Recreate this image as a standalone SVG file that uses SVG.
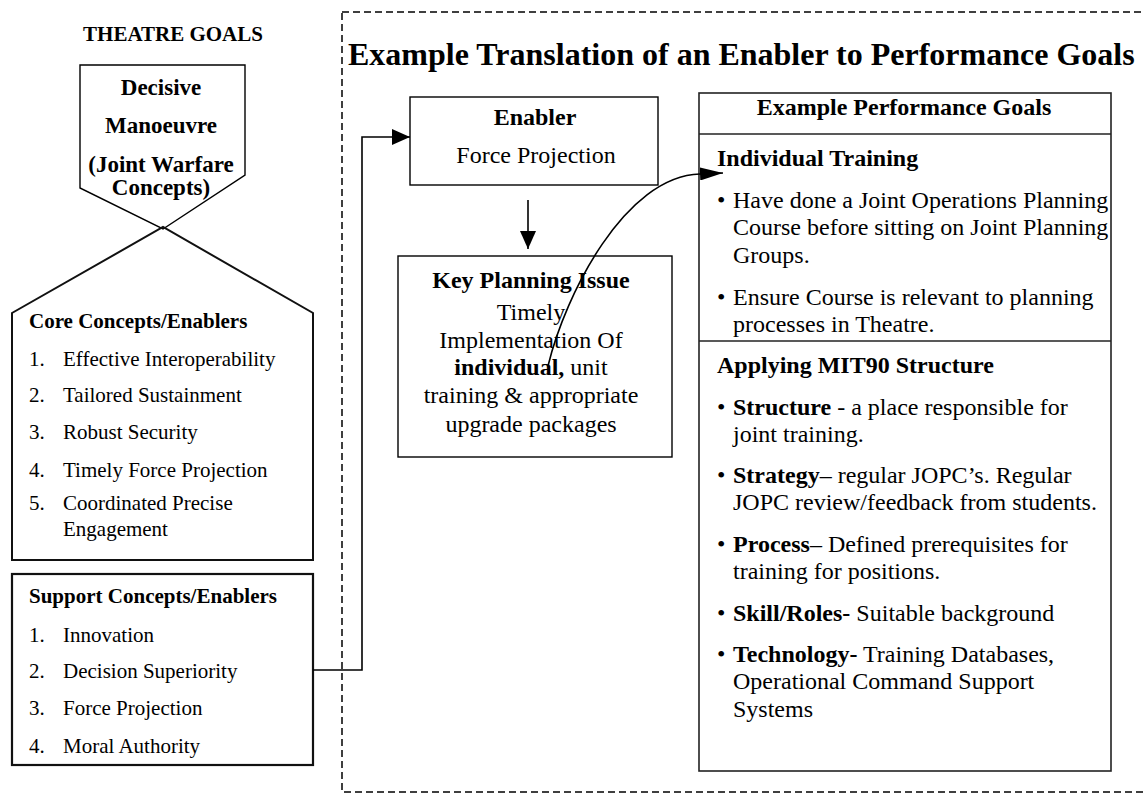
<svg xmlns="http://www.w3.org/2000/svg" width="1143" height="794" viewBox="0 0 1143 794">
  <style>
    text { font-family: "Liberation Serif", "Times New Roman", serif; fill: #000; }
    .b { font-weight: bold; }
    .s21 { font-size: 21px; }
    .s23 { font-size: 23px; }
    .s24 { font-size: 24px; }
    .title { font-size: 32px; font-weight: bold; }
    .mid { text-anchor: middle; }
    .box { fill: #fff; stroke: #000; stroke-width: 1.4; }
    .thick { fill: #fff; stroke: #111; stroke-width: 2.2; }
    .frame { fill: none; stroke: #000; stroke-width: 1.5; stroke-dasharray: 7 4; }
    .wire { fill: none; stroke: #000; stroke-width: 1.6; }
  </style>
  <defs>
    <marker id="head" viewBox="0 0 18 16" refX="18" refY="8" markerWidth="18" markerHeight="16" markerUnits="userSpaceOnUse" orient="auto">
      <path d="M0,0 L18,8 L0,16 z" fill="#000"/>
    </marker>
    <marker id="headSlim" viewBox="0 0 23 13" refX="23" refY="6.5" markerWidth="23" markerHeight="13" markerUnits="userSpaceOnUse" orient="auto">
      <path d="M0,0 L23,6.5 L0,13 z" fill="#000"/>
    </marker>
  </defs>

  <rect width="1143" height="794" fill="#fff"/>

  <!-- dashed frame around the translation example -->
  <rect id="frame" class="frame" x="342" y="12" width="830" height="780"/>

  <text id="theatre-goals" class="b s21 mid" x="173" y="41">THEATRE GOALS</text>

  <g id="decisive-manoeuvre">
    <path class="box" d="M80,65 H245 V175 L163,229 L80,188 Z"/>
    <text class="b s23 mid" x="161" y="95">Decisive</text>
    <text class="b s23 mid" x="161" y="133">Manoeuvre</text>
    <text class="b s23 mid" x="161" y="172">(Joint Warfare</text>
    <text class="b s23 mid" x="161" y="195">Concepts)</text>
  </g>

  <g id="core-concepts">
    <path d="M12,313 L163,227 L313,313 V560 H12 Z" fill="none" stroke="#111" stroke-width="2"/>
    <text class="b s21" x="29" y="328">Core Concepts/Enablers</text>
    <text class="s21" x="29" y="366">1.</text><text class="s21" x="63" y="366">Effective Interoperability</text>
    <text class="s21" x="29" y="402">2.</text><text class="s21" x="63" y="402">Tailored Sustainment</text>
    <text class="s21" x="29" y="439">3.</text><text class="s21" x="63" y="439">Robust Security</text>
    <text class="s21" x="29" y="477">4.</text><text class="s21" x="63" y="477">Timely Force Projection</text>
    <text class="s21" x="29" y="510">5.</text><text class="s21" x="63" y="510">Coordinated Precise</text>
    <text class="s21" x="63" y="536">Engagement</text>
  </g>

  <g id="support-concepts">
    <rect class="thick" x="12" y="574" width="301" height="191"/>
    <text class="b s21" x="29" y="603">Support Concepts/Enablers</text>
    <text class="s21" x="29" y="642">1.</text><text class="s21" x="63" y="642">Innovation</text>
    <text class="s21" x="29" y="678">2.</text><text class="s21" x="63" y="678">Decision Superiority</text>
    <text class="s21" x="29" y="715">3.</text><text class="s21" x="63" y="715">Force Projection</text>
    <text class="s21" x="29" y="753">4.</text><text class="s21" x="63" y="753">Moral Authority</text>
  </g>

  <text id="heading" class="title" x="348" y="65">Example Translation of an Enabler to Performance Goals</text>

  <g id="enabler">
    <rect class="box" x="410" y="97" width="248" height="88"/>
    <text class="b s24 mid" x="535" y="125">Enabler</text>
    <text class="s24 mid" x="536" y="163">Force Projection</text>
  </g>

  <g id="key-planning-issue">
    <rect class="box" x="398" y="256" width="274" height="201"/>
    <text class="b s24 mid" x="531" y="288">Key Planning Issue</text>
    <text class="s24 mid" x="531" y="320">Timely</text>
    <text class="s24 mid" x="531" y="348">Implementation Of</text>
    <text class="s24 mid" x="531" y="375"><tspan class="b">individual,</tspan> unit</text>
    <text class="s24 mid" x="531" y="403">training &amp; appropriate</text>
    <text class="s24 mid" x="531" y="432">upgrade packages</text>
  </g>

  <g id="performance-goals">
    <rect x="699" y="93" width="412" height="678" fill="#fff" stroke="#222" stroke-width="1.6"/>
    <line x1="699" y1="134" x2="1111" y2="134" stroke="#222" stroke-width="1.4"/>
    <line x1="699" y1="341" x2="1111" y2="341" stroke="#222" stroke-width="1.4"/>
    <text class="b s24 mid" x="904" y="115">Example Performance Goals</text>

    <text class="b s24" x="717" y="166">Individual Training</text>
    <text class="s24" x="717" y="208">•</text>
    <text class="s24" x="733" y="208">Have done a Joint Operations Planning</text>
    <text class="s24" x="733" y="235">Course before sitting on Joint Planning</text>
    <text class="s24" x="733" y="263">Groups.</text>
    <text class="s24" x="717" y="305">•</text>
    <text class="s24" x="733" y="305">Ensure Course is relevant to planning</text>
    <text class="s24" x="733" y="332">processes in Theatre.</text>

    <text class="b s24" x="717" y="373">Applying MIT90 Structure</text>
    <text class="s24" x="717" y="415">•</text>
    <text class="s24" x="733" y="415"><tspan class="b">Structure</tspan> - a place responsible for</text>
    <text class="s24" x="733" y="442">joint training.</text>
    <text class="s24" x="717" y="483">•</text>
    <text class="s24" x="733" y="483"><tspan class="b">Strategy</tspan>– regular JOPC’s. Regular</text>
    <text class="s24" x="733" y="510">JOPC review/feedback from students.</text>
    <text class="s24" x="717" y="552">•</text>
    <text class="s24" x="733" y="552"><tspan class="b">Process</tspan>– Defined prerequisites for</text>
    <text class="s24" x="733" y="579">training for positions.</text>
    <text class="s24" x="717" y="621">•</text>
    <text class="s24" x="733" y="621"><tspan class="b">Skill/Roles-</tspan> Suitable background</text>
    <text class="s24" x="717" y="662">•</text>
    <text class="s24" x="733" y="662"><tspan class="b">Technology-</tspan> Training Databases,</text>
    <text class="s24" x="733" y="689">Operational Command Support</text>
    <text class="s24" x="733" y="717">Systems</text>
  </g>

  <g id="connectors">
    <path class="wire" d="M313,670 H362 V137 H410" marker-end="url(#head)"/>
    <path class="wire" d="M528,200 V249" marker-end="url(#head)"/>
    <path class="wire" stroke-width="1.3" d="M548,366 C565,295 625,176 700,174 L723,173" marker-end="url(#headSlim)"/>
  </g>
</svg>
